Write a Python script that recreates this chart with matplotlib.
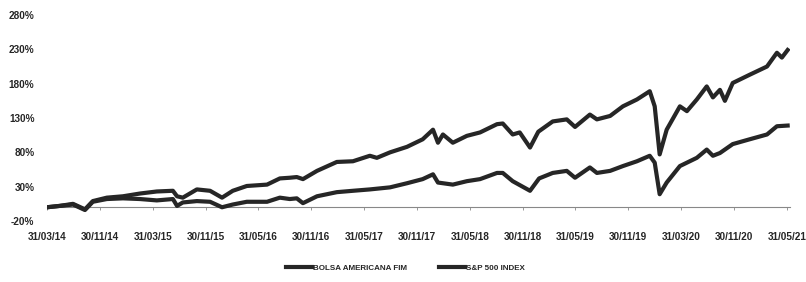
import matplotlib
matplotlib.use("Agg")
import matplotlib.pyplot as plt

plt.rcParams['font.family'] = ['Liberation Sans', 'DejaVu Sans']

# trading-day index (category axis)
fund_x = [0, 31, 63, 92, 111, 145, 184, 225, 266, 305, 315, 329, 363, 395, 424,
          450, 484, 533, 564, 588, 605, 620, 654, 702, 741, 782, 799, 831, 872,
          910, 935, 947, 959, 983, 1017, 1049, 1090, 1104, 1128, 1145, 1170,
          1190, 1225, 1259, 1279, 1315, 1332, 1364, 1395, 1429, 1460, 1472,
          1484, 1501, 1533, 1550, 1574, 1598, 1613, 1630, 1642, 1661, 1702,
          1744, 1768, 1780, 1794]
fund_y = [0, 2, 5, -3, 9, 14, 16, 20, 23, 24, 16, 14, 26, 24, 14,
          24, 31, 33, 42, 43, 44, 41, 53, 66, 67, 75, 72, 80, 88,
          99, 113, 94, 106, 94, 104, 109, 121, 122, 106, 109, 87,
          110, 125, 128, 117, 135, 128, 133, 147, 157, 169, 147,
          77, 113, 147, 140, 157, 176, 160, 171, 155, 181, 193,
          205, 225, 218, 229]

spx_x = [0, 31, 63, 92, 111, 145, 184, 225, 266, 305, 315, 329, 363, 395, 424,
         450, 484, 533, 564, 588, 605, 620, 654, 702, 741, 782, 831, 872, 910,
         935, 947, 983, 1017, 1049, 1090, 1104, 1128, 1170, 1192, 1225, 1259,
         1279, 1315, 1332, 1364, 1395, 1429, 1460, 1472, 1484, 1501, 1533,
         1574, 1598, 1613, 1630, 1661, 1702, 1744, 1768, 1794]
spx_y = [0, 2, 4, -4, 8, 12, 13, 12, 10, 12, 2, 7, 9, 8, 0,
         4, 8, 8, 14, 12, 13, 6, 16, 22, 24, 26, 29, 35, 41,
         48, 36, 33, 38, 41, 50, 50, 38, 24, 42, 50, 53,
         43, 58, 50, 53, 60, 67, 75, 65, 19, 36, 60,
         72, 84, 75, 79, 92, 99, 106, 118, 119]

tick_labels = ["31/03/14", "30/11/14", "31/03/15", "30/11/15", "31/05/16",
               "30/11/16", "31/05/17", "30/11/17", "31/05/18", "30/11/18",
               "31/05/19", "30/11/19", "31/03/20", "30/11/20", "31/05/21"]
tick_step = 128
y_ticks = [-20, 30, 80, 130, 180, 230, 280]

ink = '#262626'

fig = plt.figure(figsize=(8.06, 2.82), dpi=100)
ax = fig.add_axes([0.0583, 0.2163, 0.922, 0.7305])

ax.plot(fund_x, fund_y, color=ink, lw=3.0, solid_joinstyle='round',
        label="BOLSA AMERICANA FIM")
ax.plot(spx_x, spx_y, color=ink, lw=3.0, solid_joinstyle='round',
        label="S&P 500 INDEX")

ax.set_xlim(0, 1800)
ax.set_ylim(-20, 280)

ax.set_yticks(y_ticks)
ax.set_yticklabels([f"{v}%" for v in y_ticks])
ax.set_xticks([i * tick_step for i in range(len(tick_labels))])
ax.set_xticklabels(tick_labels)

for s in ['top', 'right', 'left']:
    ax.spines[s].set_visible(False)
ax.spines['bottom'].set_position(('data', 0))
ax.spines['bottom'].set_linestyle((0, (1, 1)))
ax.spines['bottom'].set_color('#888888')
ax.spines['bottom'].set_linewidth(0.8)
ax.spines['bottom'].set_zorder(0)

ax.tick_params(axis='y', length=0, pad=9, labelsize=7.2, labelcolor=ink)
ax.tick_params(axis='x', length=2, width=0.6, color='#888888', pad=16,
               labelsize=7.2, labelcolor=ink)
for t in ax.get_xticklabels() + ax.get_yticklabels():
    t.set_fontweight('bold')

leg = fig.legend(loc='center', bbox_to_anchor=(0.503, 0.05), ncol=2,
                 frameon=False, fontsize=5.8, handlelength=3.2,
                 handletextpad=0.1, columnspacing=4.0)
for t in leg.get_texts():
    t.set_color(ink)
    t.set_fontweight('bold')

fig.savefig("out.png", dpi=100)
